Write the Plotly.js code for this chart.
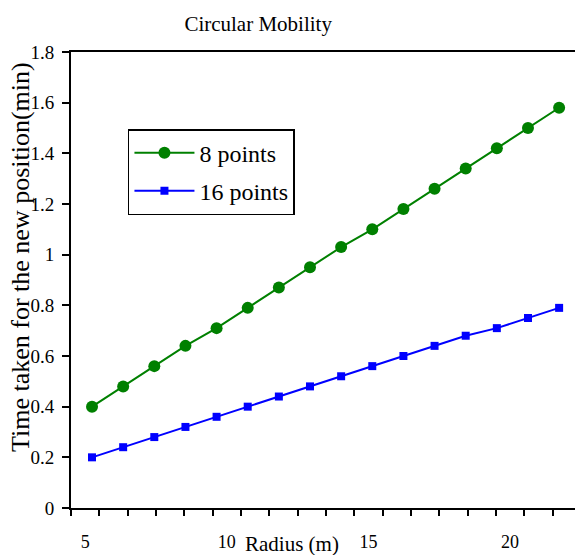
<!DOCTYPE html>
<html>
<head>
<meta charset="utf-8">
<script src="https://cdn.plot.ly/plotly-3.0.1.min.js"></script>
<style>html,body{margin:0;padding:0;background:#fff;}#chart{width:575px;height:555px;}</style>
</head>
<body>
<div id="chart"></div>
<script>
// Data
var radius = [5, 6, 7, 8, 9, 10, 11, 12, 13, 14, 15, 16, 17, 18, 19, 20];
var points8 = [0.40, 0.48, 0.56, 0.64, 0.71, 0.79, 0.87, 0.95, 1.03, 1.10, 1.18, 1.26, 1.34, 1.42, 1.50, 1.58];
var points16 = [0.20, 0.24, 0.28, 0.32, 0.36, 0.40, 0.44, 0.48, 0.52, 0.56, 0.60, 0.64, 0.68, 0.71, 0.75, 0.79];
var seriesNames = ['8 points', '16 points'];
var xTickLabels = ['5', '10', '15', '20'];
var xTickValues = [5, 10, 15, 20];

var serif = '"Liberation Serif", serif';

var traces = [
  {
    x: radius, y: points8, name: seriesNames[0], type: 'scatter', mode: 'lines+markers',
    legendgroup: 'a',
    line: {color: '#008000', width: 2},
    marker: {symbol: 'circle', size: 12, color: '#008000'}
  },
  {
    x: radius, y: points16, name: seriesNames[1], type: 'scatter', mode: 'lines+markers',
    legendgroup: 'b',
    line: {color: '#0000FF', width: 2},
    marker: {symbol: 'square', size: 8, color: '#0000FF'}
  },
  {
    // invisible helper trace so the category-style label axis is drawn
    x: [4.5, 22.3], y: [null, null], xaxis: 'x2', yaxis: 'y', showlegend: false,
    hoverinfo: 'skip', mode: 'markers', type: 'scatter'
  }
];

var layout = {
  width: 575, height: 555,
  margin: {l: 71, r: 0, t: 52, b: 47, pad: 0},
  paper_bgcolor: '#fff', plot_bgcolor: '#fff',
  font: {family: serif, color: '#000', size: 18},
  title: {text: 'Circular Mobility', font: {family: serif, size: 21, color: '#000'}, x: 0.449, xanchor: 'center', y: 0.958, yanchor: 'middle'},
  showlegend: true,
  legend: {
    x: 0.113, y: 0.831, xanchor: 'left', yanchor: 'top',
    bgcolor: '#fff', bordercolor: '#000', borderwidth: 1.5,
    font: {family: serif, size: 24, color: '#000'},
    tracegroupgap: 4, itemsizing: 'trace', itemwidth: 60
  },
  annotations: [
    {
      text: 'Radius (m)', xref: 'paper', yref: 'paper',
      x: (292 - 71) / 504, y: -(544 - 508) / 456, xanchor: 'center', yanchor: 'middle',
      showarrow: false, font: {family: serif, size: 21, color: '#000'}
    },
    {
      text: 'Time taken for the new position(min)', xref: 'paper', yref: 'paper',
      x: (20 - 71) / 504, y: (508 - 257) / 456, xanchor: 'center', yanchor: 'middle',
      textangle: -90, showarrow: false, font: {family: serif, size: 26, color: '#000'}
    }
  ],
  xaxis: {
    range: [4.325, 20.51],
    showgrid: false, zeroline: false,
    showline: true, linecolor: '#000', linewidth: 2, mirror: true,
    ticks: '', showticklabels: false
  },
  xaxis2: {
    overlaying: 'x', side: 'bottom', anchor: 'y',
    range: [4.5, 22.29],
    showgrid: false, zeroline: false, showline: false,
    tickmode: 'array', tickvals: xTickValues, ticktext: xTickLabels,
    ticks: '', ticklen: 0, ticklabelstandoff: 21,
    tickfont: {family: serif, size: 18, color: '#000'},
    minor: {ticks: 'outside', ticklen: 7, tickwidth: 2, tickcolor: '#000', tick0: 4.5, dtick: 1, showgrid: false}
  },
  yaxis: {
    range: [0, 1.8], dtick: 0.2, tick0: 0,
    showgrid: false, zeroline: false,
    showline: true, linecolor: '#000', linewidth: 2, mirror: false,
    ticks: 'outside', ticklen: 7, tickwidth: 2, tickcolor: '#000',
    ticklabelstandoff: 4,
    tickfont: {family: serif, size: 19, color: '#000'}
  }
};

Plotly.newPlot('chart', traces, layout, {displayModeBar: false, staticPlot: true});
</script>
</body>
</html>
